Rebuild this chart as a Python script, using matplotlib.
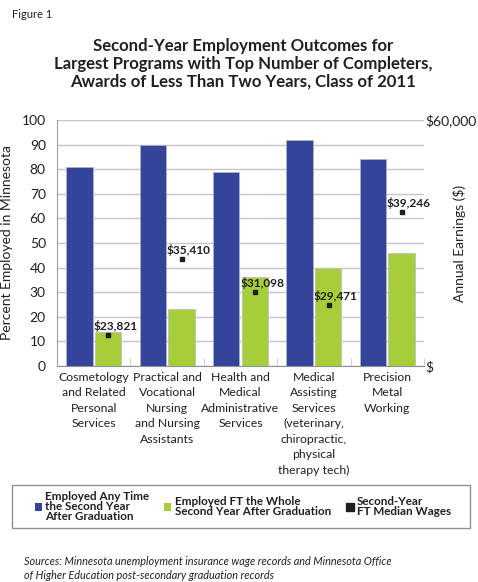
import matplotlib
matplotlib.use("Agg")
import matplotlib.pyplot as plt
import numpy as np
from matplotlib.patches import Patch, Rectangle
from matplotlib.lines import Line2D

plt.rcParams['font.family'] = ['Lato', 'DejaVu Sans']

programs = ["Cosmetology\nand Related\nPersonal\nServices",
            "Practical and\nVocational\nNursing\nand Nursing\nAssistants",
            "Health and\nMedical\nAdministrative\nServices",
            "Medical\nAssisting\nServices\n(veterinary,\nchiropractic,\nphysical\ntherapy tech)",
            "Precision\nMetal\nWorking"]
employed_any = [81, 90, 79, 92, 84]
employed_ft = [14, 23, 36, 40, 46]
median_wages = [23821, 35410, 31098, 29471, 39246]
# height of the wage markers as drawn in the original (percent axis units)
wage_marker_level = [12.6, 43.4, 30.0, 24.7, 62.5]

blue = "#35449b"
green = "#a6cd3a"
dark = "#231f20"
grid_c = "#c6c6c6"

fig = plt.figure(figsize=(4.78, 5.82), dpi=100)
ax = fig.add_axes([0.1192, 0.3711, 0.7678, 0.4227])

x = np.arange(len(programs))
w = 0.36
ax.bar(x - 0.195, employed_any, w, color=blue, edgecolor="#b0b0c8", linewidth=0.6, zorder=3)
ax.bar(x + 0.195, employed_ft, w, color=green, edgecolor="#c0c0c0", linewidth=0.6, zorder=3)
ax.plot(x + 0.2, wage_marker_level, "s", color=dark, markersize=3.2, zorder=4)
for xi, lv, wg in zip(x, wage_marker_level, median_wages):
    ax.annotate(f"${wg:,}", (xi + 0.2, lv), xytext=(7, 3), textcoords="offset pixels",
                ha="center", va="bottom", fontsize=8.6, fontweight="bold", color=dark, zorder=5)

ax.set_xlim(-0.5, len(programs) - 0.5)
ax.set_ylim(0, 100)
ax.set_yticks(range(0, 101, 10))
ax.yaxis.grid(True, color=grid_c, linewidth=1)
ax.set_axisbelow(True)
ax.set_xticks(x)
ax.set_xticklabels(programs, fontsize=8.8, color=dark, linespacing=1.5)
ax.set_xticks(np.arange(-0.5, len(programs), 1), minor=True)
ax.tick_params(axis="x", which="major", length=0, pad=4)
ax.tick_params(axis="x", which="minor", length=6, direction="in", color=grid_c)
ax.tick_params(axis="y", length=0, labelsize=10, colors=dark, pad=8)
for s in ["top", "right"]:
    ax.spines[s].set_visible(False)
ax.spines["left"].set_color("#a0a0a0")
ax.spines["bottom"].set_color("#909090")
ax.set_ylabel("Percent Employed in Minnesota", fontsize=10, color=dark, labelpad=6)

ax2 = ax.twinx()
ax2.set_ylim(0, 60000)
ax2.set_yticks([0, 60000])
ax2.set_yticklabels(["$", "$60,000"])
ax2.tick_params(axis="y", length=0, labelsize=10, colors=dark, pad=1)
for s in ["top", "left", "bottom", "right"]:
    ax2.spines[s].set_visible(False)
ax2.set_ylabel("Annual Earnings ($)", fontsize=10, color=dark)
ax2.yaxis.set_label_coords(1.078, 0.5)

fig.text(0.025, 0.985, "Figure 1", fontsize=8, color=dark, va="top")
fig.text(0.508, 0.935, "Second-Year Employment Outcomes for\nLargest Programs with Top Number of Completers,\nAwards of Less Than Two Years, Class of 2011",
         ha="center", va="top", fontsize=12.1, fontweight="bold", color=dark, linespacing=1.15)

# legend frame
fig.patches.append(Rectangle((12 / 478, (582 - 528) / 582), 458 / 478, 43 / 582,
                             transform=fig.transFigure, fill=False,
                             edgecolor="#909090", linewidth=1))
handles = [Patch(facecolor=blue, edgecolor="none"),
           Patch(facecolor=green, edgecolor="none"),
           Line2D([], [], marker="s", color=dark, linestyle="none", markersize=6)]
labels = ["Employed Any Time\nthe Second Year\nAfter Graduation",
          "Employed FT the Whole\nSecond Year After Graduation",
          "Second-Year\nFT Median Wages"]
leg = fig.legend(handles, labels, loc="center", bbox_to_anchor=(0.508, (582 - 506.5) / 582), ncol=3,
                 frameon=False, handlelength=0.6, handleheight=0.6, handletextpad=0.3,
                 columnspacing=1.3, prop={"weight": "bold", "size": 8.4}, borderaxespad=0)
for t in leg.get_texts():
    t.set_color(dark)
    t.set_linespacing(0.9)

fig.text(0.05, 0.023, "Sources: Minnesota unemployment insurance wage records and Minnesota Office\nof Higher Education post-secondary graduation records",
         fontsize=7.8, style="italic", color=dark, va="center", linespacing=1.4)

fig.savefig("out.png", dpi=100)
